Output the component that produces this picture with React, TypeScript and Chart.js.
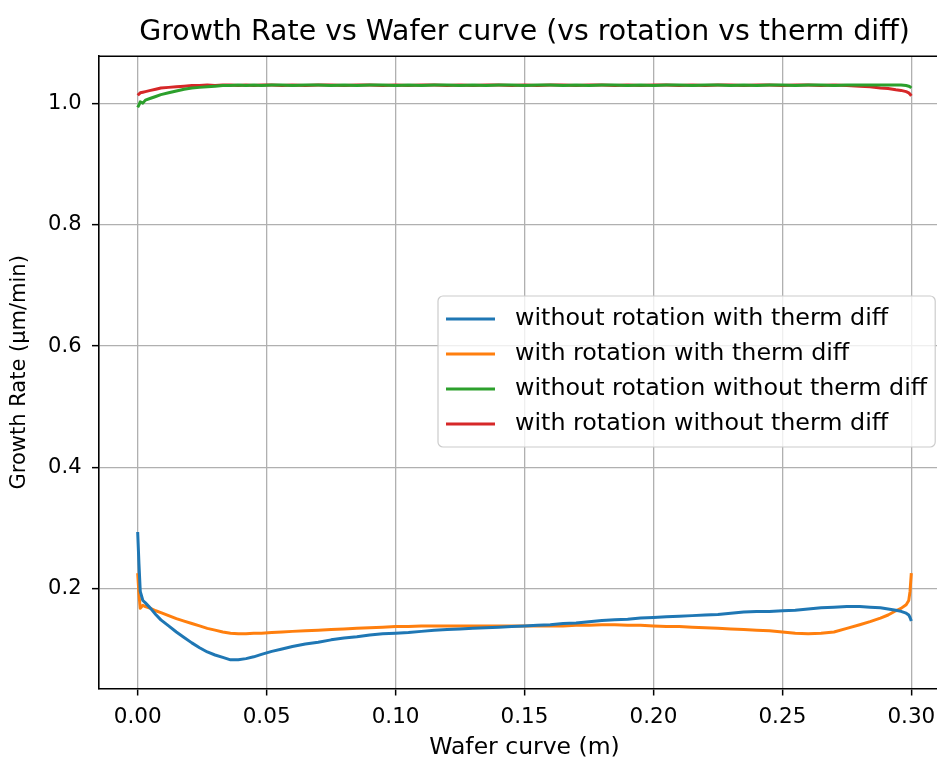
import { useEffect, useRef } from "react";
import { Chart, registerables } from "chart.js";

Chart.register(...registerables);

const TITLE = "Growth Rate vs Wafer curve (vs rotation vs therm diff)";
const X_LABEL = "Wafer curve (m)";
const Y_LABEL = "Growth Rate (μm/min)";
const X_TICKS = [0, 0.05, 0.1, 0.15, 0.2, 0.25, 0.3];
const Y_TICKS = [0.2, 0.4, 0.6, 0.8, 1.0];
const SERIES_LABELS = [
  "without rotation with therm diff",
  "with rotation with therm diff",
  "without rotation without therm diff",
  "with rotation without therm diff",
];
const SERIES_COLORS = ["#1f77b4", "#ff7f0e", "#2ca02c", "#d62728"];

const WAFER_X = [
  0, 0.0005, 0.001, 0.002, 0.003, 0.005, 0.007, 0.009, 0.012, 0.015,
  0.018, 0.021, 0.024, 0.027, 0.030, 0.033, 0.036, 0.039, 0.042, 0.045,
  0.048, 0.052, 0.056, 0.060, 0.065, 0.070, 0.075, 0.080, 0.085, 0.090,
  0.095, 0.100, 0.105, 0.110, 0.115, 0.120, 0.125, 0.130, 0.135, 0.140,
  0.145, 0.150, 0.155, 0.160, 0.165, 0.170, 0.175, 0.180, 0.185, 0.190,
  0.195, 0.200, 0.205, 0.210, 0.215, 0.220, 0.225, 0.230, 0.235, 0.240,
  0.245, 0.250, 0.255, 0.260, 0.265, 0.270, 0.275, 0.280, 0.284, 0.288,
  0.291, 0.294, 0.296, 0.298, 0.299, 0.2995, 0.300,
];

const NOROT_THERM = [
  0.293, 0.240, 0.195, 0.180, 0.176, 0.167, 0.157, 0.148, 0.138, 0.128,
  0.119, 0.110, 0.102, 0.095, 0.090, 0.086, 0.082, 0.082, 0.084, 0.087,
  0.091, 0.096, 0.100, 0.104, 0.108, 0.111, 0.115, 0.118, 0.120, 0.123,
  0.125, 0.126, 0.127, 0.129, 0.131, 0.132, 0.133, 0.134, 0.135, 0.136,
  0.137, 0.138, 0.139, 0.140, 0.142, 0.143, 0.145, 0.147, 0.148, 0.149,
  0.151, 0.152, 0.153, 0.154, 0.155, 0.156, 0.157, 0.159, 0.161, 0.162,
  0.162, 0.163, 0.164, 0.166, 0.168, 0.169, 0.170, 0.170, 0.169, 0.168,
  0.166, 0.164, 0.162, 0.159, 0.156, 0.152, 0.146,
];

const ROT_THERM = [
  0.225, 0.190, 0.167, 0.172, 0.170, 0.167, 0.163, 0.160, 0.155, 0.150,
  0.146, 0.142, 0.138, 0.134, 0.131, 0.128, 0.126, 0.125, 0.125, 0.126,
  0.126, 0.127, 0.128, 0.129, 0.130, 0.131, 0.132, 0.133, 0.134, 0.135,
  0.136, 0.137, 0.137, 0.138, 0.138, 0.138, 0.138, 0.138, 0.138, 0.138,
  0.138, 0.138, 0.138, 0.138, 0.138, 0.139, 0.139, 0.140, 0.140, 0.139,
  0.139, 0.138, 0.137, 0.137, 0.136, 0.135, 0.134, 0.133, 0.132, 0.131,
  0.130, 0.128, 0.126, 0.125, 0.126, 0.128, 0.134, 0.140, 0.145, 0.151,
  0.156, 0.163, 0.167, 0.173, 0.180, 0.195, 0.225,
];

const NOROT_NOTHERM = [
  0.994, 0.998, 1.003, 1.001, 1.006, 1.009, 1.012, 1.015, 1.018, 1.021,
  1.024, 1.026, 1.027, 1.028, 1.029, 1.030, 1.030, 1.031, 1.030, 1.031,
  1.030, 1.031, 1.031, 1.030, 1.031, 1.031, 1.030, 1.031, 1.030, 1.031,
  1.031, 1.030, 1.031, 1.030, 1.031, 1.031, 1.030, 1.031, 1.030, 1.031,
  1.031, 1.030, 1.031, 1.031, 1.030, 1.031, 1.030, 1.031, 1.031, 1.030,
  1.031, 1.030, 1.031, 1.031, 1.030, 1.031, 1.031, 1.030, 1.031, 1.030,
  1.031, 1.031, 1.030, 1.031, 1.031, 1.030, 1.031, 1.031, 1.031, 1.031,
  1.031, 1.031, 1.031, 1.030, 1.029, 1.028, 1.026,
];

const ROT_NOTHERM = [
  1.014, 1.016, 1.018, 1.019, 1.020, 1.022, 1.024, 1.026, 1.027, 1.028,
  1.029, 1.030, 1.030, 1.031, 1.030, 1.031, 1.031, 1.030, 1.031, 1.030,
  1.031, 1.031, 1.030, 1.031, 1.030, 1.031, 1.031, 1.030, 1.031, 1.031,
  1.030, 1.031, 1.030, 1.031, 1.031, 1.030, 1.031, 1.030, 1.031, 1.031,
  1.030, 1.031, 1.030, 1.031, 1.031, 1.030, 1.031, 1.031, 1.030, 1.031,
  1.030, 1.031, 1.031, 1.030, 1.031, 1.030, 1.031, 1.031, 1.030, 1.031,
  1.031, 1.030, 1.031, 1.031, 1.030, 1.031, 1.030, 1.029, 1.028, 1.026,
  1.025, 1.023, 1.022, 1.020, 1.018, 1.016, 1.013,
];

const SERIES_VALUES = [NOROT_THERM, ROT_THERM, NOROT_NOTHERM, ROT_NOTHERM];

const FONT = "'DejaVu Sans', sans-serif";
const LEGEND_FONT_SIZE = 23.8;

const framePlugin = {
  id: "mplFrame",
  afterDraw(chart: any) {
    const { ctx, chartArea } = chart;
    ctx.save();
    // top spine
    ctx.strokeStyle = "#000";
    ctx.lineWidth = 1.6;
    ctx.beginPath();
    ctx.moveTo(chartArea.left, chartArea.top);
    ctx.lineTo(chartArea.right, chartArea.top);
    ctx.stroke();

    // legend
    ctx.font = `${LEGEND_FONT_SIZE}px ${FONT}`;
    const ds = chart.data.datasets;
    let maxW = 0;
    ds.forEach((d: any) => {
      maxW = Math.max(maxW, ctx.measureText(d.label).width);
    });
    const left = 438;
    const top = 296;
    const firstRow = 319;
    const rowH = 35;
    const w = 8 + 49 + 20 + maxW + 8;
    const h = 151;
    const r = 5;
    ctx.beginPath();
    ctx.moveTo(left + r, top);
    ctx.lineTo(left + w - r, top);
    ctx.arcTo(left + w, top, left + w, top + r, r);
    ctx.lineTo(left + w, top + h - r);
    ctx.arcTo(left + w, top + h, left + w - r, top + h, r);
    ctx.lineTo(left + r, top + h);
    ctx.arcTo(left, top + h, left, top + h - r, r);
    ctx.lineTo(left, top + r);
    ctx.arcTo(left, top, left + r, top, r);
    ctx.closePath();
    ctx.fillStyle = "rgba(255,255,255,0.8)";
    ctx.fill();
    ctx.strokeStyle = "#cccccc";
    ctx.lineWidth = 1.2;
    ctx.stroke();

    ds.forEach((d: any, i: number) => {
      const y = firstRow + i * rowH;
      ctx.strokeStyle = d.borderColor;
      ctx.lineWidth = 3;
      ctx.beginPath();
      ctx.moveTo(left + 8, y);
      ctx.lineTo(left + 57, y);
      ctx.stroke();
      ctx.fillStyle = "#000";
      ctx.textAlign = "left";
      ctx.textBaseline = "middle";
      ctx.fillText(d.label, left + 77, y);
    });
    ctx.restore();
  },
};

export default function App() {
  const canvasRef = useRef<HTMLCanvasElement | null>(null);

  useEffect(() => {
    const canvas = canvasRef.current;
    if (!canvas) return;
    const chart = new Chart(canvas, {
      type: "line",
      data: {
        datasets: SERIES_LABELS.map((label, i) => ({
          label,
          data: WAFER_X.map((x, j) => ({ x, y: SERIES_VALUES[i][j] })),
          borderColor: SERIES_COLORS[i],
          backgroundColor: SERIES_COLORS[i],
          borderWidth: 3,
          borderJoinStyle: "round" as any,
          pointRadius: 0,
          tension: 0,
          fill: false,
        })),
      },
      options: {
        animation: false,
        responsive: false,
        devicePixelRatio: 1,
        layout: { padding: { left: 0, right: 10, top: 0, bottom: 0 } },
        plugins: {
          legend: { display: false },
          tooltip: { enabled: false },
          title: {
            display: true,
            text: TITLE,
            fullSize: false,
            color: "#000",
            font: { family: FONT, size: 28.4, weight: "normal" as any },
            padding: { top: 15.8, bottom: 6.3 },
          },
        },
        scales: {
          x: {
            type: "linear",
            min: -0.015,
            max: 0.315,
            afterBuildTicks: (s: any) => {
              s.ticks = X_TICKS.map((v) => ({ value: v }));
            },
            afterFit: (s: any) => {
              s.height = 71.5;
            },
            ticks: {
              callback: (v: any) => Number(v).toFixed(2),
              color: "#000",
              font: { family: FONT, size: 21.5 },
              padding: 9,
              maxRotation: 0,
              autoSkip: false,
            },
            grid: {
              color: "#b0b0b0",
              lineWidth: 1.3,
              tickColor: "#000",
              tickLength: 7,
              tickWidth: 1.5,
            },
            border: { color: "#000", width: 1.6 },
            title: {
              display: true,
              text: X_LABEL,
              color: "#000",
              font: { family: FONT, size: 23.5, lineHeight: 1 },
              padding: { top: 0, bottom: 0.5 },
            },
          },
          y: {
            type: "linear",
            min: 0.0347,
            max: 1.0785,
            afterBuildTicks: (s: any) => {
              s.ticks = Y_TICKS.map((v) => ({ value: v }));
            },
            afterFit: (s: any) => {
              s.width = 99;
            },
            ticks: {
              callback: (v: any) => Number(v).toFixed(1),
              color: "#000",
              font: { family: FONT, size: 21 },
              padding: 10.5,
              autoSkip: false,
            },
            grid: {
              color: "#b0b0b0",
              lineWidth: 1.3,
              tickColor: "#000",
              tickLength: 7,
              tickWidth: 1.5,
            },
            border: { color: "#000", width: 1.6 },
            title: {
              display: true,
              text: Y_LABEL,
              color: "#000",
              font: { family: FONT, size: 21, lineHeight: 1.2 },
              padding: { top: 7.4, bottom: 0 },
            },
          },
        },
      },
      plugins: [framePlugin],
    });
    return () => chart.destroy();
  }, []);

  return (
    <div
      style={{
        position: "absolute",
        left: 0,
        top: 0,
        width: 937,
        height: 760,
        overflow: "hidden",
        background: "#fff",
      }}
    >
      <canvas
        ref={canvasRef}
        width={960}
        height={760}
        style={{ display: "block", width: 960, height: 760 }}
      />
    </div>
  );
}
